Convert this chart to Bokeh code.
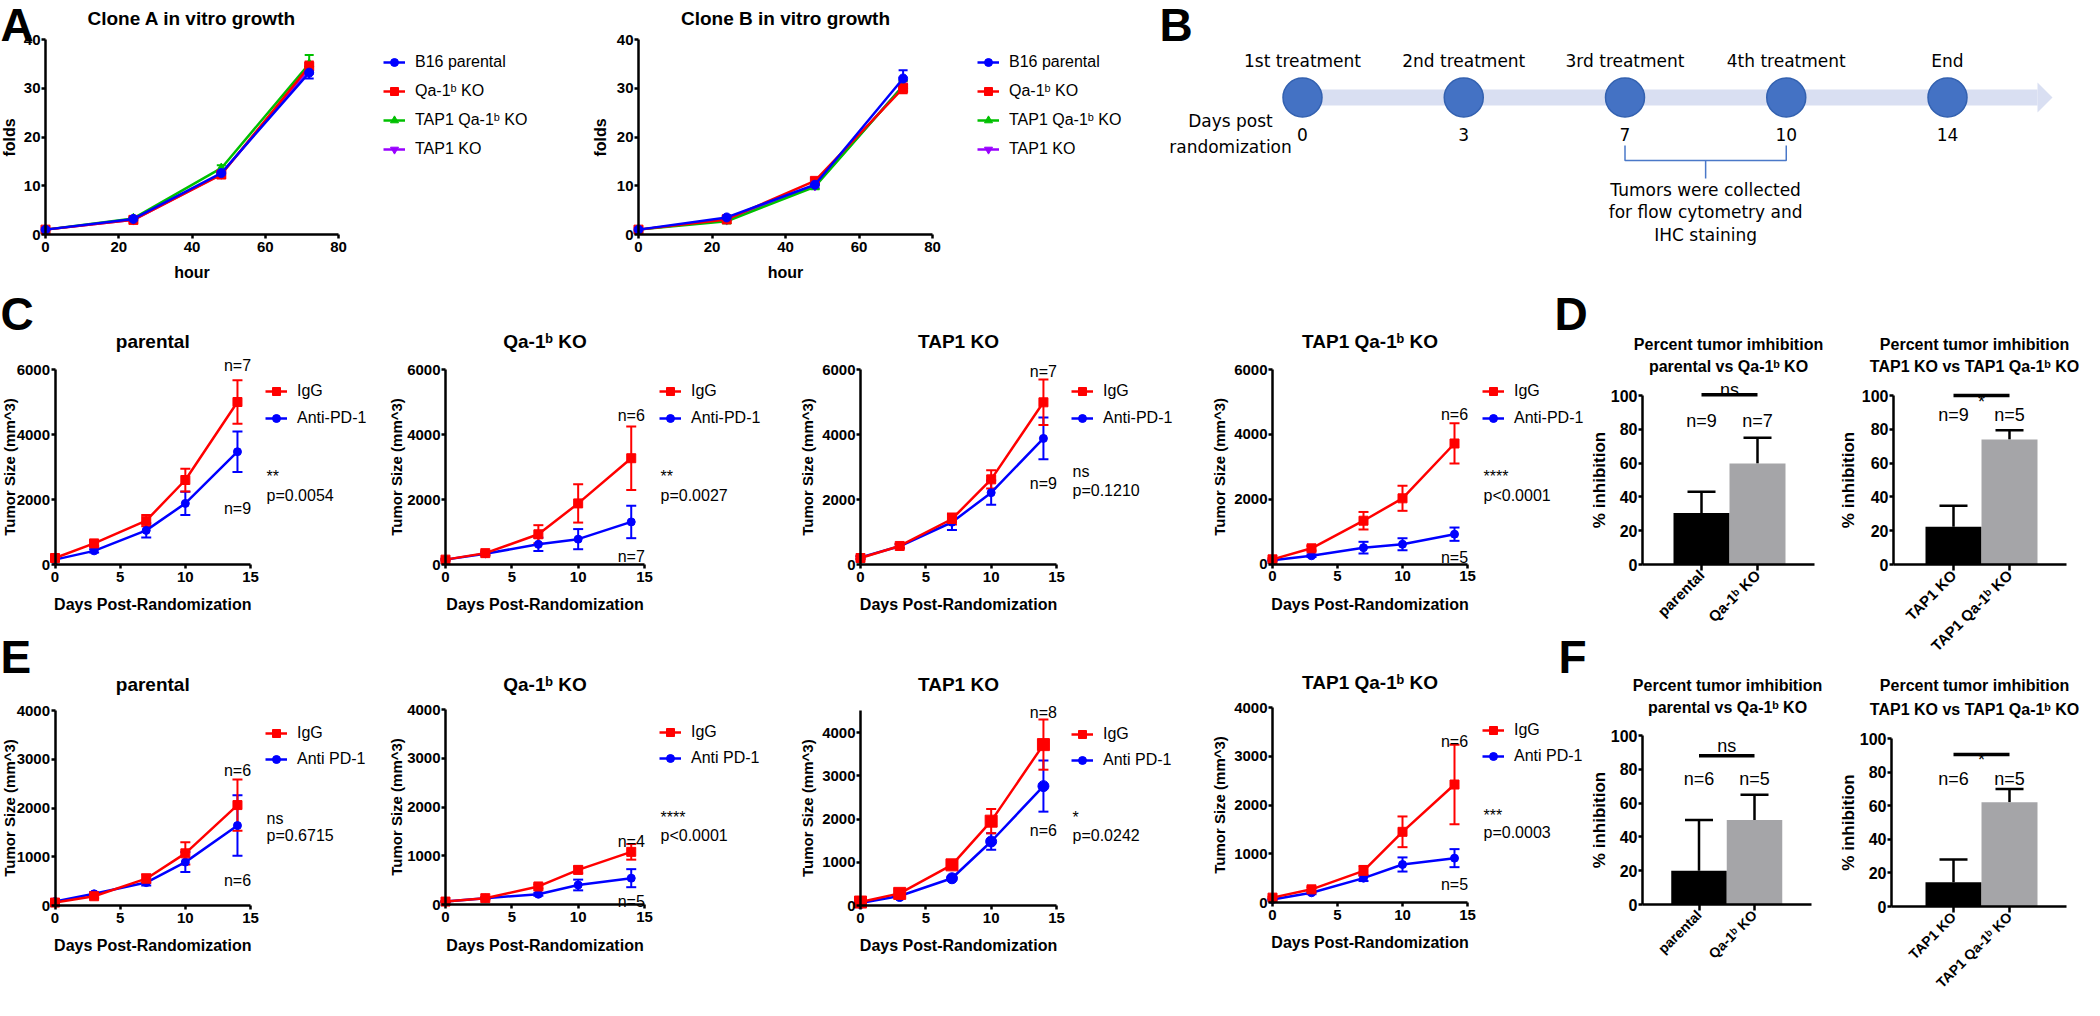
import math
from bokeh.plotting import figure
from bokeh.models import (ColumnDataSource, Range1d, Label, Legend, LegendItem,
                          Whisker, TeeHead, FixedTicker, LinearAxis)
from bokeh.layouts import row, column
from bokeh.core.properties import value
from bokeh.embed import file_html
from bokeh.resources import INLINE

FONT = "Liberation Sans"
B_FONT = "DejaVu Sans"

# ---------------- data ----------------
hours = [0, 24, 48, 72]
a_groups = ["B16 parental", "Qa-1ᵇ KO", "TAP1 Qa-1ᵇ KO", "TAP1 KO"]
cloneA_parental = [1.0, 3.2, 12.6, 33.2]
cloneA_parental_err = [0.2, 0.4, 0.6, 1.2]
cloneA_qa1b = [1.0, 3.0, 12.3, 34.5]
cloneA_qa1b_err = [0.3, 0.4, 0.7, 1.0]
cloneA_tap1qa1b = [1.0, 3.3, 13.6, 35.0]
cloneA_tap1qa1b_err = [0.2, 0.4, 0.6, 1.8]
cloneA_tap1 = [1.0, 3.0, 12.4, 34.0]
cloneA_tap1_err = [0.2, 0.3, 0.5, 1.0]
cloneB_parental = [1.0, 3.5, 10.2, 32.0]
cloneB_parental_err = [0.2, 0.4, 0.6, 1.7]
cloneB_qa1b = [1.0, 3.1, 11.0, 30.0]
cloneB_qa1b_err = [0.3, 0.4, 0.6, 1.0]
cloneB_tap1qa1b = [1.0, 2.7, 9.8, 30.5]
cloneB_tap1qa1b_err = [0.2, 0.3, 0.5, 1.0]
cloneB_tap1 = [1.0, 3.0, 10.0, 30.5]
cloneB_tap1_err = [0.2, 0.3, 0.5, 1.0]

stages = ["1st treatment", "2nd treatment", "3rd treatment", "4th treatment", "End"]
stage_days = [0, 3, 7, 10, 14]
collected_text = ["Tumors were collected", "for flow cytometry and", "IHC staining"]

days = [0, 3, 7, 10, 14]
model_titles = ["parental", "Qa-1ᵇ KO", "TAP1 KO", "TAP1 Qa-1ᵇ KO"]

C_igg = [[200, 650, 1350, 2600, 5000], [150, 350, 930, 1880, 3270],
         [200, 570, 1400, 2620, 4990], [150, 490, 1340, 2030, 3720]]
C_igg_err = [[40, 80, 170, 350, 670], [30, 60, 280, 590, 975],
             [40, 60, 170, 280, 700], [30, 70, 270, 385, 620]]
C_anti = [[150, 420, 1050, 1880, 3470], [150, 330, 620, 780, 1310],
          [220, 560, 1300, 2210, 3880], [120, 260, 510, 615, 925]]
C_anti_err = [[30, 50, 220, 360, 620], [30, 50, 205, 310, 500],
              [40, 60, 240, 375, 640], [20, 40, 180, 185, 205]]
C_n = [("n=7", "n=9"), ("n=6", "n=7"), ("n=7", "n=9"), ("n=6", "n=5")]
C_n_y = [(6123, 1723), (4585, 246), (5938, 2492), (4603, 206)]
C_sig = ["**", "**", "ns", "****"]
C_p = ["p=0.0054", "p=0.0027", "p=0.1210", "p<0.0001"]

E_igg = [[60, 190, 550, 1070, 2060], [60, 130, 370, 710, 1080],
         [80, 280, 940, 1950, 3720], [100, 270, 650, 1450, 2420]]
E_igg_err = [[15, 40, 90, 230, 525], [10, 20, 40, 70, 160],
             [15, 40, 70, 280, 580], [20, 40, 100, 315, 815]]
E_anti = [[80, 240, 470, 890, 1640], [60, 130, 210, 400, 540],
          [60, 220, 630, 1480, 2760], [60, 200, 500, 780, 910]]
E_anti_err = [[15, 30, 60, 205, 620], [10, 20, 30, 110, 185],
              [10, 30, 40, 190, 590], [10, 30, 60, 145, 185]]
E_n = [("n=6", "n=6"), ("n=4", "n=5"), ("n=8", "n=6"), ("n=6", "n=5")]
E_n_y = [(2770, 513), (1292, 62), (4462, 1734), (3303, 369)]
E_sig = ["ns", "****", "*", "***"]
E_p = ["p=0.6715", "p<0.0001", "p=0.0242", "p=0.0003"]
E_ymax = [4000, 4000, 4500, 4000]

bar_title1 = "Percent tumor imhibition"
pair1_cats = ["parental", "Qa-1ᵇ KO"]
pair2_cats = ["TAP1 KO", "TAP1 Qa-1ᵇ KO"]
pair1_title = "parental vs Qa-1ᵇ KO"
pair2_title = "TAP1 KO vs TAP1 Qa-1ᵇ KO"
D1_vals, D1_errs, D1_n, D1_sig = [30.5, 59.8], [12.5, 15.2], ["n=9", "n=7"], "ns"
D2_vals, D2_errs, D2_n, D2_sig = [22.3, 74.0], [12.5, 5.5], ["n=9", "n=5"], "*"
F1_vals, F1_errs, F1_n, F1_sig = [20.0, 50.0], [30.0, 15.0], ["n=6", "n=5"], "ns"
F2_vals, F2_errs, F2_n, F2_sig = [14.5, 62.0], [13.5, 8.0], ["n=6", "n=5"], "*"

RED, BLUE = "#FF0000", "#0000FF"
A_COLORS = ["#0000FF", "#FF0000", "#00C000", "#9900FF"]
A_MARKERS = ["circle", "square", "triangle", "inverted_triangle"]

LEGEND_SHIFT = 10  # px correction of legend box placement


# ---------------- helpers ----------------
class Panel:
    """A figure whose frame fills its whole canvas; box is in page pixels."""

    def __init__(self, box, xmap, ymap):
        self.fx, self.fy, self.W, self.H = box
        (xa, pxa), (xb, pxb) = xmap
        (ya, pya), (yb, pyb) = ymap
        self.xa, self.pxa, self.kx = xa, pxa, (pxb - pxa) / (xb - xa)
        self.ya, self.pya, self.ky = ya, pya, (pya - pyb) / (yb - ya)
        self.p = figure(width=self.W, height=self.H,
                        x_range=Range1d(self.dx(self.fx), self.dx(self.fx + self.W)),
                        y_range=Range1d(self.dy(self.fy + self.H), self.dy(self.fy)),
                        x_axis_location=None, y_axis_location=None,
                        min_border_left=0, min_border_right=0, min_border_top=0,
                        min_border_bottom=0, output_backend="svg", toolbar_location=None)
        self.p.outline_line_color = None
        for g in self.p.grid:
            g.visible = False
        self.p.background_fill_color = "white"
        self.p.border_fill_color = "white"

    def dx(self, px):
        return self.xa + (px - self.pxa) / self.kx

    def dy(self, py):
        return self.ya + (self.pya - py) / self.ky

    def text(self, px, py, txt, size="16px", style="normal", align="left",
             baseline="alphabetic", angle=0.0, font=FONT):
        self.p.add_layout(Label(x=self.dx(px), y=self.dy(py), text=txt, angle=angle,
                                text_font=font, text_font_size=size,
                                text_font_style=style, text_align=align,
                                text_baseline=baseline, text_color="black"))

    def dtext(self, x, y, txt, size="16px", align="center"):
        self.p.add_layout(Label(x=x, y=y, text=txt, text_font=FONT, text_font_size=size,
                                text_align=align, text_baseline="alphabetic",
                                text_color="black"))

    def axes(self, xbounds, ybounds, xticks, yticks, tick_size="15px", ytick_size=None,
             overrides=None, rot_size=None):
        xa = LinearAxis(fixed_location=ybounds[0], bounds=xbounds,
                        ticker=FixedTicker(ticks=xticks))
        ya = LinearAxis(fixed_location=xbounds[0], bounds=ybounds,
                        ticker=FixedTicker(ticks=yticks))
        for ax in (xa, ya):
            ax.axis_line_width = 2.5
            ax.axis_line_color = "black"
            ax.major_tick_line_width = 2.5
            ax.major_tick_line_color = "black"
            ax.major_tick_out = 4
            ax.major_tick_in = 0
            ax.minor_tick_out = 0
            ax.minor_tick_in = 0
            ax.major_label_text_font = FONT
            ax.major_label_text_font_style = "bold"
            ax.major_label_text_font_size = tick_size
            ax.major_label_text_color = "black"
        if ytick_size:
            ya.major_label_text_font_size = ytick_size
        xa.major_label_standoff = 3
        ya.major_label_standoff = 1
        if overrides:
            xa.major_label_overrides = overrides
        if rot_size:
            xa.major_label_orientation = math.pi / 4
            xa.major_label_text_font_size = rot_size
            xa.major_tick_out = 6
            xa.major_label_standoff = 2
        self.p.add_layout(xa, "below")
        self.p.add_layout(ya, "left")

    def legend(self, items, line_x, first_center, pitch):
        n = len(items)
        spacing = pitch - 20
        bottom = first_center - 10 + n * 20 + (n - 1) * spacing + LEGEND_SHIFT
        leg = Legend(items=items, location=(line_x - self.fx, self.fy + self.H - bottom),
                     orientation="vertical", padding=0, margin=0, spacing=spacing,
                     glyph_width=22, glyph_height=20, label_height=20, label_standoff=10,
                     label_text_font=FONT, label_text_font_size="16px",
                     label_text_color="black", border_line_color=None,
                     background_fill_alpha=0)
        self.p.add_layout(leg)


def add_series(p, x, y, err, color, marker, size, head=10):
    src = ColumnDataSource(dict(x=x, y=y,
                                lo=[a - b for a, b in zip(y, err)],
                                hi=[a + b for a, b in zip(y, err)]))
    p.add_layout(Whisker(source=src, base="x", upper="hi", lower="lo",
                         line_color=color, line_width=2,
                         upper_head=TeeHead(size=head, line_color=color, line_width=2),
                         lower_head=TeeHead(size=head, line_color=color, line_width=2)))
    lr = p.line("x", "y", source=src, line_color=color, line_width=2.5)
    sr = p.scatter("x", "y", source=src, marker=marker, size=size,
                   fill_color=color, line_color=color)
    return lr, sr


# ---------------- panel A ----------------
def growth_chart(box, x0px, x80px, title, series, legend_x, ylabel_x, letter=None):
    pn = Panel(box, ((0, x0px), (80, x80px)), ((0, 242), (40, 47)))
    pn.axes((0, 80), (0, 40), [0, 20, 40, 60, 80], [0, 10, 20, 30, 40], "15px")
    rends = {}
    for i in [3, 2, 1, 0]:
        vals, errs = series[i]
        rends[i] = add_series(pn.p, hours, vals, errs, A_COLORS[i], A_MARKERS[i], 9, head=9)
    pn.legend([LegendItem(label=a_groups[i], renderers=list(rends[i])) for i in range(4)],
              legend_x, 60, 29)
    cx = (x0px + x80px) / 2
    pn.text(cx, 26, title, "19px", "bold", "center")
    pn.text(cx, 280, "hour", "16px", "bold", "center", "middle")
    pn.text(ylabel_x, 145, "folds", "16px", "bold", "center", "middle", math.pi / 2)
    if letter:
        pn.text(8, 32, letter, "46px", "bold", "left", "middle")
    return pn.p


pA1 = growth_chart((8, 8, 592, 282), 53, 346, "Clone A in vitro growth",
                   [(cloneA_parental, cloneA_parental_err), (cloneA_qa1b, cloneA_qa1b_err),
                    (cloneA_tap1qa1b, cloneA_tap1qa1b_err), (cloneA_tap1, cloneA_tap1_err)],
                   391, 17, letter="A")
pA2 = growth_chart((600, 8, 550, 282), 646, 940, "Clone B in vitro growth",
                   [(cloneB_parental, cloneB_parental_err), (cloneB_qa1b, cloneB_qa1b_err),
                    (cloneB_tap1qa1b, cloneB_tap1qa1b_err), (cloneB_tap1, cloneB_tap1_err)],
                   985, 608)

# ---------------- panel B (timeline) ----------------
idx = list(range(len(stages)))
pnB = Panel((1150, 8, 942, 282), ((idx[0], 1310), (idx[-1], 1955)), ((290, 290), (8, 8)))
pB = pnB.p
head_base = pnB.dx(2045)
head_tip = pnB.dx(2060)
pB.quad(left=[idx[0]], right=[head_base], top=[97], bottom=[113],
        fill_color="#D9DFF2", line_color=None)
pB.patch([head_base, head_tip, head_base], [90, 105, 120], fill_color="#D9DFF2",
         line_color=None)
pB.scatter(idx, [105] * len(idx), size=39, marker="circle",
           fill_color="#4472C4", line_color="#3361B0", line_width=1.5)
B_TXT = dict(text_font=value(B_FONT), text_font_size=value("17px"), text_align="center",
             text_baseline="middle", text_color="black")
pB.text(idx, [68] * len(idx), text=stages, **B_TXT)
pB.text(idx, [142] * len(idx), text=[str(d) for d in stage_days], **B_TXT)
pB.text([pnB.dx(1238)] * 2, [128, 154], text=["Days post", "randomization"], **B_TXT)
mid = (idx[2] + idx[3]) / 2
pB.multi_line(xs=[[idx[2], idx[2], idx[3], idx[3]], [mid, mid]],
              ys=[[153, 168, 168, 153], [168, 186]], line_color="#4A78C8", line_width=1.5)
pB.text([mid] * 3, [197, 219, 242], text=collected_text, **B_TXT)
pnB.text(1167, 32, "B", "46px", "bold", "left", "middle")


# ---------------- panels C / E ----------------
def tumor_chart(box, x0px, x15px, y0px, ytoppx, ytopval, ymax, title, title_b,
                igg, igg_err, anti, anti_err, leg_labels, leg_first, leg_pitch,
                nt, ny, sig, pv, sig_b, ylabel_x, xlabel_y, msize,
                letter=None, letter_y=0, letter2=None, letter2_x=1563):
    pn = Panel(box, ((0, x0px), (15, x15px)), ((0, y0px), (ytopval, ytoppx)))
    step = 2000 if ymax >= 6000 else 1000
    pn.axes((0, 15), (0, ymax), [0, 5, 10, 15],
            list(range(0, min(ymax, 6000) + 1, step)) if ymax != 4500 else
            [0, 1000, 2000, 3000, 4000], "15px")
    p = pn.p
    ra = add_series(p, days, anti, anti_err, BLUE, "circle", msize[1])
    ri = add_series(p, days, igg, igg_err, RED, "square", msize[0])
    pn.legend([LegendItem(label=leg_labels[0], renderers=list(ri)),
               LegendItem(label=leg_labels[1], renderers=list(ra))],
              x15px + 15, leg_first, leg_pitch)
    cx = (x0px + x15px) / 2
    pn.text(cx, title_b, title, "19px", "bold", "center")
    pn.text(cx, xlabel_y, "Days Post-Randomization", "16px", "bold", "center", "middle")
    ytop_axis = y0px - (y0px - ytoppx) * ymax / ytopval
    pn.text(ylabel_x, (y0px + ytop_axis) / 2, "Tumor Size (mm^3)", "15px", "bold",
            "center", "middle", math.pi / 2)
    pn.dtext(14, ny[0], nt[0])
    pn.dtext(14, ny[1], nt[1])
    pn.text(x15px + 16, sig_b[0], sig, "16px")
    pn.text(x15px + 16, sig_b[1], pv, "16px")
    if letter:
        pn.text(8, letter_y, letter, "46px", "bold", "left", "middle")
    if letter2:
        pn.text(letter2_x, letter_y, letter2, "46px", "bold", "left", "middle")
    return p


CE_boxes_x = [(8, 387), (395, 410), (805, 412), (1217, 380)]
CE_axis_x = [(62.5, 258), (453, 652), (868, 1064), (1280, 1475)]
CE_ylabel_x = [17, 404, 815, 1227]
C_y0 = [572, 572, 572, 571.7]
C_sig_b = [(484, 503), (484, 503), (479, 498), (484, 503)]
E_y0 = [913, 912, 913, 910]
E_ytop = [718, 717, 740, 715]
E_leg_first = [731, 730, 732, 728]
E_sig_b = [(826, 843), (825, 843), (825, 843), (823, 840)]
E_title_b = [692, 692, 692, 690]
E_xlabel_y = [953, 953, 953, 950]

C_figs, E_figs = [], []
for i in range(4):
    bx, bw = CE_boxes_x[i]
    x0px, x15px = CE_axis_x[i]
    C_figs.append(tumor_chart((bx, 290, bw, 350), x0px, x15px, C_y0[i], 377, 6000, 6000,
                              model_titles[i], 349,
                              C_igg[i], C_igg_err[i], C_anti[i], C_anti_err[i],
                              ["IgG", "Anti-PD-1"], 389, 27, C_n[i], C_n_y[i],
                              C_sig[i], C_p[i], C_sig_b[i], CE_ylabel_x[i], 612, (9, 8),
                              letter="C" if i == 0 else None, letter_y=321,
                              letter2="D" if i == 3 else None, letter2_x=1562))
    E_figs.append(tumor_chart((bx, 640, bw, 368), x0px, x15px, E_y0[i], E_ytop[i], 4000,
                              E_ymax[i], model_titles[i], E_title_b[i],
                              E_igg[i], E_igg_err[i], E_anti[i], E_anti_err[i],
                              ["IgG", "Anti PD-1"], E_leg_first[i], 26, E_n[i], E_n_y[i],
                              E_sig[i], E_p[i], E_sig_b[i], CE_ylabel_x[i], E_xlabel_y[i],
                              (12, 11) if i == 2 else (9, 8),
                              letter="E" if i == 0 else None, letter_y=664,
                              letter2="F" if i == 3 else None, letter2_x=1566))


# ---------------- panels D / F (bars) ----------------
def bar_chart(box, c0px, c1px, y0px, y100px, axis_l, axis_r, cats, vals, errs, ntexts,
              n_y, sig, sig_y, line_y, title2, t_b, title_cx, ylabel_x, rot_size):
    pn = Panel(box, ((0.5, c0px), (1.5, c1px)), ((0, y0px), (100, y100px)))
    pos = [i + 0.5 for i in range(len(cats))]
    pn.axes((pn.dx(axis_l), pn.dx(axis_r)), (0, 100), pos, [0, 20, 40, 60, 80, 100],
            "15px", ytick_size="16px",
            overrides={pos[i]: cats[i] for i in range(len(cats))}, rot_size=rot_size)
    p = pn.p
    src = ColumnDataSource(dict(x=pos, top=vals, hi=[v + e for v, e in zip(vals, errs)],
                                color=["#000000", "#A5A5A8"]))
    p.add_layout(Whisker(source=src, base="x", upper="hi", lower="top", line_color="black",
                         line_width=2.5, lower_head=None,
                         upper_head=TeeHead(size=28, line_color="black", line_width=2.5)))
    p.vbar(x="x", top="top", width=1.0, source=src, fill_color="color", line_color=None)
    p.segment(x0=[pos[0]], x1=[pos[1]], y0=[line_y], y1=[line_y], line_color="black",
              line_width=3.5)
    pn.dtext((pos[0] + pos[1]) / 2, sig_y, sig, "18px")
    pn.dtext(pos[0], n_y, ntexts[0], "18px")
    pn.dtext(pos[1], n_y, ntexts[1], "18px")
    pn.text(title_cx, t_b[0], bar_title1, "16px", "bold", "center")
    pn.text(title_cx, t_b[1], title2, "16px", "bold", "center")
    pn.text(ylabel_x, (y0px + y100px) / 2, "% inhibition", "17px", "bold", "center",
            "middle", math.pi / 2)
    return p


pD1 = bar_chart((1597, 290, 248, 380), 1709, 1765, 572, 403, 1650, 1822, pair1_cats,
                D1_vals, D1_errs, D1_n, 85.2, D1_sig, 103.5, 100.5, pair1_title,
                (352, 374), 1736, 1607, "15px")
pD2 = bar_chart((1845, 290, 247, 380), 1961, 2017, 572, 403, 1901, 2074, pair2_cats,
                D2_vals, D2_errs, D2_n, 88.2, D2_sig, 96, 100, pair2_title,
                (352, 374), 1982, 1856, "15px")
pF1 = bar_chart((1597, 670, 248, 338), 1706.5, 1762, 912, 743, 1650, 1819, pair1_cats,
                F1_vals, F1_errs, F1_n, 74, F1_sig, 93.5, 88, pair1_title,
                (693, 715), 1735, 1607, "14px")
pF2 = bar_chart((1845, 670, 247, 338), 1961, 2017, 914, 746, 1899, 2074, pair2_cats,
                F2_vals, F2_errs, F2_n, 76, F2_sig, 87, 90.5, pair2_title,
                (693, 717), 1982, 1856, "14px")

layout = column(
    row(pA1, pA2, pB),
    row(column(row(*C_figs), row(*E_figs)),
        row(column(pD1, pF1), column(pD2, pF2))),
)

open("out.html", "w").write(file_html(layout, INLINE, title="figure"))
